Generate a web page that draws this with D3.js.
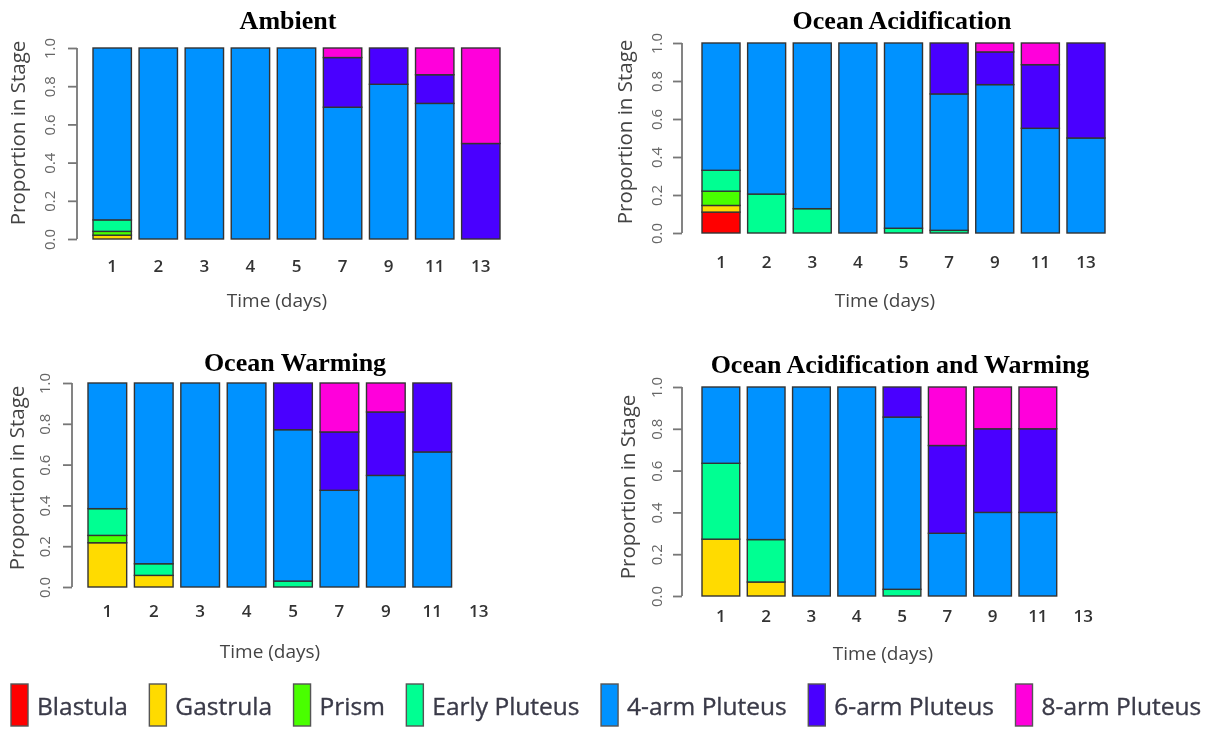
<!DOCTYPE html>
<html>
<head>
<meta charset="utf-8">
<script src="https://cdn.jsdelivr.net/npm/d3@7"></script>
<style>
  html, body { margin: 0; padding: 0; background: #fff; }
  svg { display: block; }
</style>
</head>
<body>
<svg id="chart" width="1212" height="730"></svg>
<script>
// ---------- DATA ----------
const days = ["1", "2", "3", "4", "5", "7", "9", "11", "13"];
const stages = ["Blastula", "Gastrula", "Prism", "Early Pluteus", "4-arm Pluteus", "6-arm Pluteus", "8-arm Pluteus"];
const stageColors = ["#FF0000", "#FFDB00", "#49FF00", "#00FF92", "#0092FF", "#4900FF", "#FF00DB"];
const yTicks = [0, 0.2, 0.4, 0.6, 0.8, 1.0];
const titles = ["Ambient", "Ocean Acidification", "Ocean Warming", "Ocean Acidification and Warming"];

// rows = stages (in order above), columns = days
const ambient = [
  [0, 0, 0, 0, 0, 0, 0, 0, 0],
  [0.02, 0, 0, 0, 0, 0, 0, 0, 0],
  [0.02, 0, 0, 0, 0, 0, 0, 0, 0],
  [0.06, 0, 0, 0, 0, 0, 0, 0, 0],
  [0.90, 1, 1, 1, 1, 0.69, 0.81, 0.71, 0],
  [0, 0, 0, 0, 0, 0.26, 0.19, 0.15, 0.5],
  [0, 0, 0, 0, 0, 0.05, 0, 0.14, 0.5]
];
const acidification = [
  [0.11, 0, 0, 0, 0, 0, 0, 0, 0],
  [0.035, 0, 0, 0, 0, 0, 0, 0, 0],
  [0.075, 0, 0, 0, 0, 0, 0, 0, 0],
  [0.11, 0.205, 0.128, 0, 0.025, 0.014, 0, 0, 0],
  [0.67, 0.795, 0.872, 1, 0.975, 0.718, 0.781, 0.551, 0.5],
  [0, 0, 0, 0, 0, 0.268, 0.172, 0.335, 0.5],
  [0, 0, 0, 0, 0, 0, 0.047, 0.114, 0]
];
const warming = [
  [0, 0, 0, 0, 0, 0, 0, 0, 0],
  [0.217, 0.057, 0, 0, 0, 0, 0, 0, 0],
  [0.036, 0, 0, 0, 0, 0, 0, 0, 0],
  [0.131, 0.057, 0, 0, 0.029, 0, 0, 0, 0],
  [0.616, 0.886, 1, 1, 0.742, 0.474, 0.547, 0.662, 0],
  [0, 0, 0, 0, 0.229, 0.286, 0.311, 0.338, 0],
  [0, 0, 0, 0, 0, 0.24, 0.142, 0, 0]
];
const acidWarming = [
  [0, 0, 0, 0, 0, 0, 0, 0, 0],
  [0.272, 0.067, 0, 0, 0, 0, 0, 0, 0],
  [0, 0, 0, 0, 0, 0, 0, 0, 0],
  [0.363, 0.203, 0, 0, 0.032, 0, 0, 0, 0],
  [0.365, 0.73, 1, 1, 0.824, 0.3, 0.4, 0.4, 0],
  [0, 0, 0, 0, 0.144, 0.42, 0.4, 0.4, 0],
  [0, 0, 0, 0, 0, 0.28, 0.2, 0.2, 0]
];
const treatments = [ambient, acidification, warming, acidWarming];

// ---------- LAYOUT (per panel) ----------
const panels = [
  { x0: 93,  x1: 500,  y0: 239, y1: 48,  axisX: 77,  tickLabX: 50,  yLabX: 18,  yLabY: 133, xLabBase: 272, xTitleX: 277, xTitleBase: 307, titleX: 288, titleBase: 29 },
  { x0: 702, x1: 1105, y0: 233, y1: 43,  axisX: 682, tickLabX: 657, yLabX: 625, yLabY: 132, xLabBase: 268, xTitleX: 885, xTitleBase: 307, titleX: 902, titleBase: 29 },
  { x0: 88,  x1: 498,  y0: 587, y1: 383, axisX: 72,  tickLabX: 45,  yLabX: 17,  yLabY: 478, xLabBase: 617, xTitleX: 270, xTitleBase: 658, titleX: 295, titleBase: 371 },
  { x0: 702, x1: 1102, y0: 596, y1: 387, axisX: 682, tickLabX: 657, yLabX: 628, yLabY: 487, xLabBase: 622, xTitleX: 883, xTitleBase: 660, titleX: 900, titleBase: 373 }
];

const svg = d3.select("#chart");
const root = svg.append("g").style("filter", "blur(0.45px)");

const sans = "'Open Sans', 'DejaVu Sans', sans-serif";

panels.forEach((p, pi) => {
  const mat = treatments[pi];
  const g = root.append("g");

  const x = d3.scaleBand().domain(days).range([p.x0, p.x1])
    .paddingInner(0.2 / 1.2).paddingOuter(0);
  const y = d3.scaleLinear().domain([0, 1]).range([p.y0, p.y1]);

  const records = days.map((d, di) => {
    const r = { day: d };
    stages.forEach((s, si) => { r[s] = mat[si][di]; });
    return r;
  });
  const series = d3.stack().keys(stages)(records);

  series.forEach((ser, si) => {
    g.selectAll(null)
      .data(ser.filter(seg => seg[1] - seg[0] > 0))
      .enter().append("rect")
      .attr("x", seg => x(seg.data.day))
      .attr("width", x.bandwidth())
      .attr("y", seg => y(seg[1]))
      .attr("height", seg => y(seg[0]) - y(seg[1]))
      .attr("fill", stageColors[si])
      .attr("stroke", "#333")
      .attr("stroke-width", 1.4);
  });

  // y axis (R style)
  const yAxis = d3.axisLeft(y).tickValues(yTicks).tickSize(9).tickFormat(d3.format(".1f"));
  const ay = g.append("g").attr("transform", `translate(${p.axisX},0)`).call(yAxis);
  ay.select(".domain").attr("stroke", "#777").attr("stroke-width", 1.8)
    .attr("d", `M0,${y(0)}V${y(1)}`);
  ay.selectAll(".tick line").attr("stroke", "#777").attr("stroke-width", 1.8);
  ay.selectAll(".tick text").remove();
  ay.selectAll(".tick").append("text")
    .attr("transform", `translate(${p.tickLabX - p.axisX},0) rotate(-90)`)
    .attr("text-anchor", "middle")
    .attr("dy", "0.35em")
    .attr("fill", "#666")
    .attr("font-family", sans)
    .attr("font-size", 15)
    .text(d => d3.format(".1f")(d));

  // x category labels
  const xAxis = d3.axisBottom(x).tickSize(0);
  const ax = g.append("g").attr("transform", `translate(0,${p.xLabBase})`).call(xAxis);
  ax.select(".domain").remove();
  ax.selectAll(".tick text")
    .attr("y", 0).attr("dy", 0)
    .attr("fill", "#333")
    .attr("font-family", sans)
    .attr("font-size", 17)
    .attr("font-weight", 600);

  // axis titles
  g.append("text")
    .attr("x", p.xTitleX).attr("y", p.xTitleBase)
    .attr("text-anchor", "middle")
    .attr("fill", "#444")
    .attr("font-family", sans)
    .attr("font-size", 19)
    .text("Time (days)");
  g.append("text")
    .attr("transform", `translate(${p.yLabX},${p.yLabY}) rotate(-90)`)
    .attr("text-anchor", "middle")
    .attr("dy", "0.35em")
    .attr("fill", "#444")
    .attr("font-family", sans)
    .attr("font-size", 20.5)
    .text("Proportion in Stage");

  // title
  g.append("text")
    .attr("x", p.titleX).attr("y", p.titleBase)
    .attr("text-anchor", "middle")
    .attr("fill", "#000")
    .attr("font-family", "'Liberation Serif', 'Times New Roman', serif")
    .attr("font-weight", "bold")
    .attr("font-size", 26)
    .text(titles[pi]);
});

// ---------- LEGEND ----------
const lg = root.append("g");
let lx = 11;
stages.forEach((s, i) => {
  lg.append("rect")
    .attr("x", lx).attr("y", 684)
    .attr("width", 17).attr("height", 42)
    .attr("fill", stageColors[i])
    .attr("stroke", "#555").attr("stroke-width", 1.4);
  const t = lg.append("text")
    .attr("x", lx + 26).attr("y", 715)
    .attr("fill", "#3a3a48")
    .attr("font-family", sans)
    .attr("font-size", 24.5)
    .attr("stroke", "#3a3a48").attr("stroke-width", 0.35)
    .text(s);
  const w = t.node().getComputedTextLength();
  lx = lx + 26 + w + 21.5;
});
</script>
</body>
</html>
